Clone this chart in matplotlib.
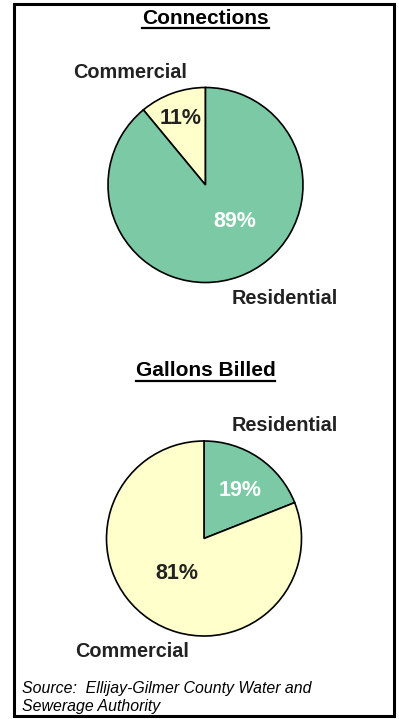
import matplotlib.pyplot as plt
from matplotlib.patches import Rectangle
from matplotlib.lines import Line2D

plt.rcParams['font.family'] = ['Liberation Sans', 'DejaVu Sans']

# data
conn_labels = ['Commercial', 'Residential']
conn_values = [11, 89]
gal_labels = ['Residential', 'Commercial']
gal_values = [19, 81]

green = '#7CCAA5'
yellow = '#FFFFCC'

W, H = 399, 719
fig = plt.figure(figsize=(W / 100, H / 100), dpi=100)


def pie_axes(cx, cy, r):
    # pixel coords (from top-left) -> figure fraction
    return fig.add_axes([(cx - r) / W, (H - cy - r) / H, 2 * r / W, 2 * r / H])


def underlined_title(text, x, y, uy):
    t = fig.text(x / W, 1 - y / H, text, ha='center', va='center',
                 fontsize=15, fontweight='bold', color='black')
    fig.canvas.draw()
    bb = t.get_window_extent()
    fig.add_artist(Line2D([bb.x0 / W, bb.x1 / W], [1 - uy / H, 1 - uy / H],
                          color='black', lw=1.6))


wedge_kw = dict(edgecolor='black', linewidth=1.2)
lab = dict(ha='center', va='center', fontsize=14.3, fontweight='bold', clip_on=False)
pct = dict(ha='center', va='center', fontsize=15.5, fontweight='bold', clip_on=False)

# Connections pie
ax1 = pie_axes(205.5, 185, 97.5)
ax1.pie(conn_values, colors=[yellow, green], startangle=90, counterclock=True,
        wedgeprops=wedge_kw, radius=1)
ax1.set_xlim(-1, 1)
ax1.set_ylim(-1, 1)
ax1.set_aspect('equal')
ax1.axis('off')
ax1.text(-0.774, 1.149, conn_labels[0], color='#222222', **lab)
ax1.text(0.815, -1.159, conn_labels[1], color='#222222', **lab)
ax1.text(-0.251, 0.687, f'{conn_values[0]}%', color='#222222', **pct)
ax1.text(0.303, -0.379, f'{conn_values[1]}%', color='white', **pct)

# Gallons Billed pie
ax2 = pie_axes(204, 538.5, 97.5)
ax2.pie(gal_values, colors=[green, yellow], startangle=90, counterclock=False,
        wedgeprops=wedge_kw, radius=1)
ax2.set_xlim(-1, 1)
ax2.set_ylim(-1, 1)
ax2.set_aspect('equal')
ax2.axis('off')
ax2.text(0.831, 1.164, gal_labels[0], color='#222222', **lab)
ax2.text(-0.738, -1.164, gal_labels[1], color='#222222', **lab)
ax2.text(0.369, 0.497, f'{gal_values[0]}%', color='white', **pct)
ax2.text(-0.277, -0.354, f'{gal_values[1]}%', color='#222222', **pct)

underlined_title('Connections', 205.5, 18, 27.5)
underlined_title('Gallons Billed', 205.5, 370, 381)

fig.text(22 / W, 1 - 689 / H, 'Source:  Ellijay-Gilmer County Water and',
         ha='left', va='center', fontsize=11.4, style='italic')
fig.text(22 / W, 1 - 707 / H, 'Sewerage Authority',
         ha='left', va='center', fontsize=11.4, style='italic')

# outer frame
fig.add_artist(Rectangle((13.5 / W, 3.5 / H), (394 - 13.5) / W, (715.5 - 3.5) / H,
                         transform=fig.transFigure, fill=False,
                         edgecolor='black', linewidth=2.2))

fig.savefig('out.png', dpi=100)
